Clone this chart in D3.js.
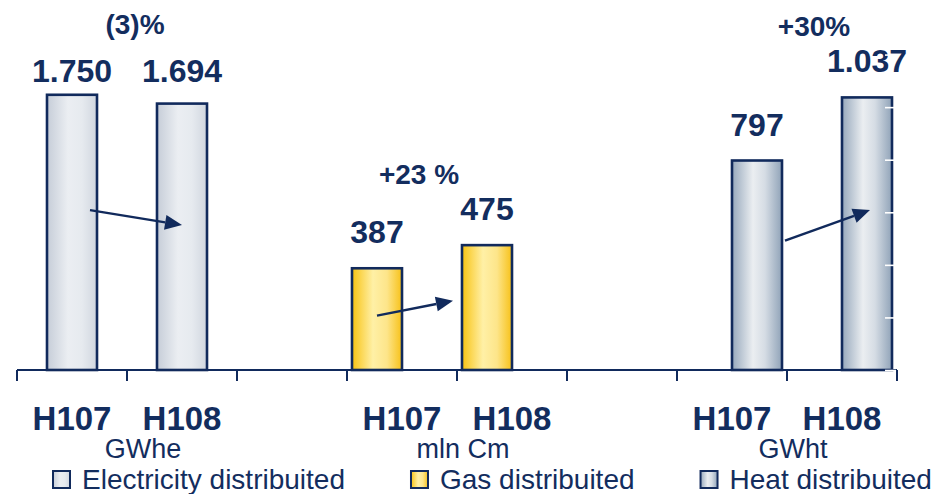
<!DOCTYPE html>
<html>
<head>
<meta charset="utf-8">
<script src="https://cdn.jsdelivr.net/npm/d3@7"></script>
<style>
  html, body { margin: 0; padding: 0; background: #ffffff; }
  svg { display: block; font-family: "Liberation Sans", Arial, Helvetica, sans-serif; }
</style>
</head>
<body>
<svg id="chart" width="932" height="494"></svg>
<script>
// Half-year volumes distributed, H1 2007 vs H1 2008
const categories  = ["H107", "H108", "", "H107", "H108", "", "H107", "H108"];
const electricity = [1750, 1694, null, null, null, null, null, null];   // GWhe, primary axis
const gas         = [null, null, null, 387, 475, null, null, null];     // mln Cm, secondary axis
const heat        = [null, null, null, null, null, null, 797, 1037];    // GWht, secondary axis
const changeLabels = ["(3)%", "+23 %", "+30%"];
const unitLabels   = ["GWhe", "mln Cm", "GWht"];
const seriesNames  = ["Electricity distribuited", "Gas distribuited", "Heat distribuited"];
const secondaryTicks = [0, 200, 400, 600, 800, 1000, 1200, 1400];

const navy = "#112a5c";
const textColor = "#132d5e";

const svg = d3.select("#chart");
const W = 932, H = 494;
svg.append("rect").attr("width", W).attr("height", H).attr("fill", "#fff");

// ---- scales ----
const baseY = 370, topY = 2;
const idx = d3.range(categories.length);
const x = d3.scaleBand().domain(idx).range([17, 897]).padding(0);
const yL = d3.scaleLinear().domain([0, 2340]).range([baseY, topY]);   // electricity
const yR = d3.scaleLinear().domain([0, 1400]).range([baseY, topY]);   // gas & heat

const barW = 50;
// secondary series sit side by side inside each category slot
const xSec = d3.scaleBand().domain(["gas", "heat"]).range([5, 5 + 2 * barW]);

// ---- gradients ----
const defs = svg.append("defs");
function grad(id, stops) {
  const g = defs.append("linearGradient").attr("id", id)
    .attr("x1", "0%").attr("x2", "100%").attr("y1", "0%").attr("y2", "0%");
  stops.forEach(([o, c]) => g.append("stop").attr("offset", o).attr("stop-color", c));
}
grad("gElec", [["0%", "#c6cdd8"], ["42%", "#ebeef2"], ["70%", "#e6eaef"], ["100%", "#d0d6df"]]);
grad("gGas",  [["0%", "#f8c312"], ["42%", "#fff0a6"], ["70%", "#fde58a"], ["100%", "#f7c118"]]);
grad("gHeat", [["0%", "#96a8bc"], ["42%", "#ebeef1"], ["66%", "#d5dce4"], ["100%", "#90a3b8"]]);

// ---- series definition ----
const series = [
  { key: "elec", values: electricity, y: yL, fill: "url(#gElec)", cx: i => x(i) + x.bandwidth() / 2 },
  { key: "gas",  values: gas,         y: yR, fill: "url(#gGas)",  cx: i => x(i) + xSec("gas") + barW / 2 },
  { key: "heat", values: heat,        y: yR, fill: "url(#gHeat)", cx: i => x(i) + xSec("heat") + barW / 2 }
];

const fmt = d3.formatLocale({ decimal: ",", thousands: ".", grouping: [3], currency: ["€", ""] }).format(",d");

// per-group annotation layout
const labelFloor = { elec: 82, gas: 0, heat: 0 };       // electricity labels share one line
const changeDx   = [8, -13, 2];
const unitDx     = [16, 6, 6];
// arrow endpoints: offset from bar centre and fraction of bar height
const arrowCfg = [
  { from: [18, 0.581], to: [0, 0.544] },
  { from: [0, 0.534],  to: [-34, 0.555] },
  { from: [28, 0.617], to: [3, 0.587] }
];

const gBars = svg.append("g");
const gLabels = svg.append("g");

series.forEach(s => {
  const pts = idx.filter(i => s.values[i] != null).map(i => ({ i, v: s.values[i] }));
  gBars.selectAll(null).data(pts).join("rect")
    .attr("x", d => s.cx(d.i) - barW / 2)
    .attr("y", d => s.y(d.v))
    .attr("width", barW)
    .attr("height", d => baseY - s.y(d.v))
    .attr("fill", s.fill)
    .attr("stroke", navy)
    .attr("stroke-width", 2.6);

  gLabels.selectAll(null).data(pts).join("text")
    .attr("x", d => s.cx(d.i))
    .attr("y", d => Math.max(s.y(d.v) - 25, labelFloor[s.key]))
    .attr("text-anchor", "middle")
    .attr("font-size", 32).attr("font-weight", "bold")
    .attr("fill", textColor)
    .text(d => fmt(d.v));
});

// ---- change arrows and percentages ----
series.forEach((s, k) => {
  const pts = idx.filter(i => s.values[i] != null).map(i => ({ i, v: s.values[i] }));
  const [a, b] = pts;
  const cfg = arrowCfg[k];
  const x1 = s.cx(a.i) + cfg.from[0], y1 = s.y(a.v * cfg.from[1]);
  const x2 = s.cx(b.i) + cfg.to[0],   y2 = s.y(b.v * cfg.to[1]);
  const ang = Math.atan2(y2 - y1, x2 - x1);
  const headL = 17, headW = 7.5;
  const bx = x2 - headL * Math.cos(ang), by = y2 - headL * Math.sin(ang);
  gLabels.append("line")
    .attr("x1", x1).attr("y1", y1).attr("x2", bx).attr("y2", by)
    .attr("stroke", navy).attr("stroke-width", 2.4);
  const px = -Math.sin(ang), py = Math.cos(ang);
  gLabels.append("path")
    .attr("d", `M${x2},${y2}L${bx + px * headW},${by + py * headW}L${bx - px * headW},${by - py * headW}Z`)
    .attr("fill", navy);

  const tallest = d3.max(pts, d => d.v);
  const mid = (s.cx(a.i) + s.cx(b.i)) / 2;
  gLabels.append("text")
    .attr("x", mid + changeDx[k])
    .attr("y", s.y(tallest) - 61)
    .attr("text-anchor", "middle")
    .attr("font-size", 28).attr("font-weight", "bold")
    .attr("fill", textColor)
    .text(changeLabels[k]);

  // unit caption under the pair of categories
  gLabels.append("text")
    .attr("x", (x(a.i) + x(b.i) + x.bandwidth()) / 2 + unitDx[k])
    .attr("y", 458)
    .attr("text-anchor", "middle")
    .attr("font-size", 27)
    .attr("fill", textColor)
    .text(unitLabels[k]);
});

// ---- category axis ----
const gAxis = svg.append("g");
gAxis.append("line")
  .attr("x1", x.range()[0]).attr("x2", x.range()[1])
  .attr("y1", baseY).attr("y2", baseY)
  .attr("stroke", navy).attr("stroke-width", 2);
const edges = idx.map(i => x(i)).concat([x.range()[1]]);
gAxis.selectAll(null).data(edges).join("line")
  .attr("x1", d => d).attr("x2", d => d)
  .attr("y1", baseY).attr("y2", baseY + 11)
  .attr("stroke", navy).attr("stroke-width", 2);
gAxis.selectAll(null).data(idx.filter(i => categories[i] !== "")).join("text")
  .attr("x", i => x(i) + x.bandwidth() / 2)
  .attr("y", 430)
  .attr("text-anchor", "middle")
  .attr("font-size", 33).attr("font-weight", "bold")
  .attr("fill", textColor)
  .text(i => categories[i]);

// ---- secondary value axis (tick marks only) ----
const rightAxis = svg.append("g")
  .attr("transform", `translate(${x.range()[1] - 1},0)`)
  .call(d3.axisRight(yR).tickValues(secondaryTicks).tickSize(-11).tickFormat(""));
rightAxis.select(".domain").attr("stroke", "none");
rightAxis.selectAll(".tick line").attr("stroke", "#ffffff").attr("stroke-width", 1.6);

// ---- legend ----
const legend = svg.append("g");
const swatches = ["url(#gElec)", "url(#gGas)", "url(#gHeat)"];
let lx = 53;
seriesNames.forEach((name, k) => {
  legend.append("rect")
    .attr("x", lx).attr("y", 471).attr("width", 17).attr("height", 17)
    .attr("fill", swatches[k]).attr("stroke", navy).attr("stroke-width", 2);
  const t = legend.append("text")
    .attr("x", lx + 29).attr("y", 489)
    .attr("font-size", 28)
    .attr("fill", textColor)
    .text(name);
  lx = lx + 29 + t.node().getComputedTextLength() + 66;
});
</script>
</body>
</html>
